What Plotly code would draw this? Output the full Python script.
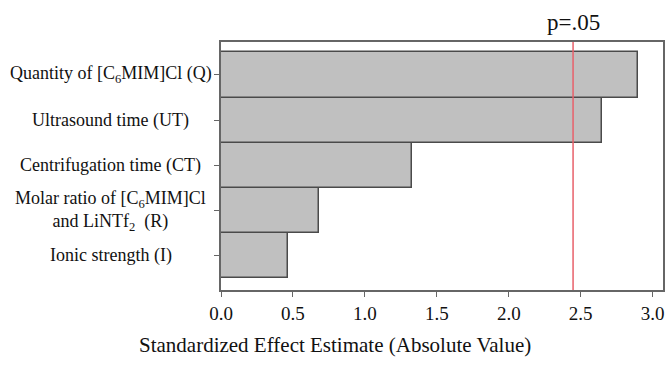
import plotly.graph_objects as go

# Data (bottom to top)
factors = ["I", "R", "CT", "UT", "Q"]
labels = [
    "Ionic strength (I)",
    "Molar ratio of [C<sub>6</sub>MIM]Cl<br>and LiNTf<sub>2</sub>  (R)",
    "Centrifugation time (CT)",
    "Ultrasound time (UT)",
    "Quantity of [C<sub>6</sub>MIM]Cl (Q)",
]
effects = [0.468, 0.678, 1.324, 2.648, 2.898]
p_crit = 2.447
p_label = "p=.05"
x_ticks = [0.0, 0.5, 1.0, 1.5, 2.0, 2.5, 3.0]
x_title = "Standardized Effect Estimate (Absolute Value)"

FONT = "Liberation Serif, Times New Roman, serif"

fig = go.Figure()
fig.add_trace(go.Bar(
    y=factors, x=effects, orientation="h", width=1.0,
    marker=dict(color="#c0c0c0", line=dict(color="#4a4a4a", width=1.5)),
    hoverinfo="x+y",
))

fig.add_shape(type="line", x0=p_crit, x1=p_crit, y0=0, y1=1, xref="x", yref="paper",
              line=dict(color="#e8606a", width=1.5))

annotations = []
for f, lab in zip(factors, labels):
    annotations.append(dict(x=-0.2496, y=f, xref="paper", yref="y", text=lab,
                            showarrow=False, xanchor="center", yanchor="middle",
                            align="center", font=dict(family=FONT, size=18, color="#111")))
annotations.append(dict(x=p_crit, y=1.08, xref="x", yref="paper", text=p_label,
                        showarrow=False, xanchor="center", yanchor="middle",
                        font=dict(family=FONT, size=23, color="#111")))
annotations.append(dict(x=0.258, y=-0.222, xref="paper", yref="paper", text=x_title,
                        showarrow=False, xanchor="center", yanchor="middle",
                        font=dict(family=FONT, size=21, color="#111")))

fig.update_layout(
    width=665, height=366,
    margin=dict(l=221, r=2, t=42, b=76, autoexpand=False),
    paper_bgcolor="white", plot_bgcolor="white",
    showlegend=False,
    bargap=0,
    annotations=annotations,
    xaxis=dict(range=[0, 3.072], tickvals=x_ticks, ticktext=[f"{v:.1f}" for v in x_ticks],
               automargin=False,
               ticks="outside", ticklen=5, tickcolor="#666", tickwidth=1.2,
               showline=True, linecolor="#666", linewidth=1.5, mirror=True,
               showgrid=False, zeroline=False,
               tickfont=dict(family=FONT, size=19, color="#111")),
    yaxis=dict(range=[-0.76, 4.73], categoryorder="array", categoryarray=factors,
               automargin=False,
               ticks="outside", ticklen=5, tickcolor="#666", tickwidth=1.2,
               showticklabels=False,
               showline=True, linecolor="#666", linewidth=1.5, mirror=True,
               showgrid=False, zeroline=False),
)

fig.write_html("out.html", config={"displayModeBar": False},
               post_script="document.body.style.margin='0';")
